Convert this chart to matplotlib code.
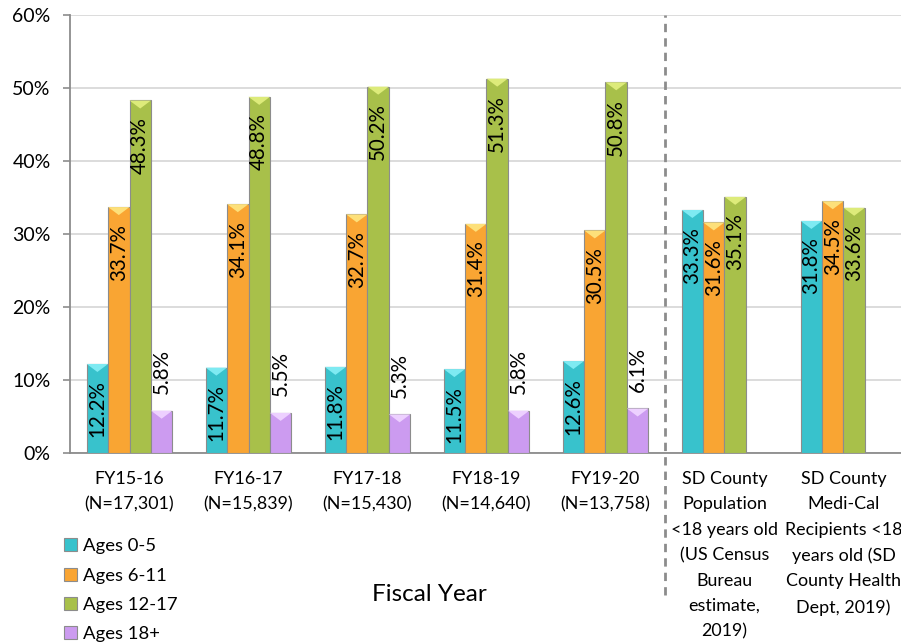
import matplotlib.pyplot as plt
import numpy as np
from matplotlib.patches import Polygon
from matplotlib.ticker import PercentFormatter

plt.rcParams["font.family"] = ["Lato", "DejaVu Sans"]

# Values (percent).
categories = [
    "FY15-16\n(N=17,301)",
    "FY16-17\n(N=15,839)",
    "FY17-18\n(N=15,430)",
    "FY18-19\n(N=14,640)",
    "FY19-20\n(N=13,758)",
    "SD County\nPopulation\n<18 years old\n(US Census\nBureau\nestimate,\n2019)",
    "SD County\nMedi-Cal\nRecipients <18\nyears old (SD\nCounty Health\nDept, 2019)",
]
series_names = ["Ages 0-5", "Ages 6-11", "Ages 12-17", "Ages 18+"]
ages_0_5 = [12.2, 11.7, 11.8, 11.5, 12.6, 33.3, 31.8]
ages_6_11 = [33.7, 34.1, 32.7, 31.4, 30.5, 31.6, 34.5]
ages_12_17 = [48.3, 48.8, 50.2, 51.3, 50.8, 35.1, 33.6]
ages_18_plus = [5.8, 5.5, 5.3, 5.8, 6.1, np.nan, np.nan]

colors = ["#38C2CC", "#F9A533", "#A8C04A", "#CC9BF0"]
highlights = ["#7EEAF2", "#FDE07A", "#DDEB7A", "#EDD0FF"]

if __name__ == "__main__":
    fig = plt.figure(figsize=(9.01, 6.43), dpi=100)
    ax = fig.add_axes([0.0777, 0.2955, 0.9245, 0.681])

    x = np.arange(len(categories))
    width = 0.18
    all_series = [ages_0_5, ages_6_11, ages_12_17, ages_18_plus]
    handles = []
    for i, values in enumerate(all_series):
        offset = (i - 1.5) * width
        bars = ax.bar(x + offset, values, width, color=colors[i],
                      edgecolor="#8C8C8C", linewidth=0.8, zorder=3,
                      label=series_names[i])
        handles.append(bars)
        for rect, v in zip(bars, values):
            if np.isnan(v):
                continue
            bx, bw, bh = rect.get_x(), rect.get_width(), rect.get_height()
            # bevel highlight at the top of each bar
            tri = Polygon([(bx, bh), (bx + bw, bh), (bx + bw / 2, bh - 1.1)],
                          closed=True, facecolor=highlights[i],
                          edgecolor="none", zorder=4)
            ax.add_patch(tri)
            label = f"{v:.1f}%"
            if i == 3:
                ax.annotate(label, (bx + bw / 2, bh), xytext=(0, 12),
                            textcoords="offset points", rotation=90,
                            ha="center", va="bottom", fontsize=14.8, zorder=5)
            else:
                ax.annotate(label, (bx + bw / 2, bh), xytext=(0, -12),
                            textcoords="offset points", rotation=90,
                            ha="center", va="top", fontsize=14.8, zorder=5)

    ax.set_xlim(-0.5, len(categories) - 0.5)
    ax.set_ylim(0, 60)
    ax.set_yticks(np.arange(0, 61, 10))
    ax.yaxis.set_major_formatter(PercentFormatter(decimals=0))
    ax.set_xticks(x)
    ax.set_xticklabels(categories, fontsize=12.9, linespacing=1.72, va="top")
    ax.tick_params(axis="x", length=0, pad=13)
    ax.tick_params(axis="y", labelsize=14, length=5, width=1.2,
                   color="#8C8C8C", pad=9)
    ax.grid(axis="y", color="#D9D9D9", linewidth=1.3, zorder=0)
    ax.set_axisbelow(True)
    for side in ["top", "right"]:
        ax.spines[side].set_visible(False)
    for side in ["left", "bottom"]:
        ax.spines[side].set_color("#8C8C8C")
        ax.spines[side].set_linewidth(1.3)

    # Separator between fiscal years and county comparisons
    ax.axvline(4.5, ymin=-0.325, ymax=1.0, color="#8C8C8C", linestyle=(0, (3, 2.2)),
               linewidth=2, clip_on=False, zorder=2)

    fig.text(0.477, 0.075, "Fiscal Year", fontsize=17.5, ha="center", va="center")

    leg = ax.legend(handles=handles, loc="upper left",
                    bbox_to_anchor=(0.068 - 0.0777 / 0.9245, -0.178),
                    frameon=False, fontsize=13.3, handlelength=0.7,
                    handleheight=0.7, handletextpad=0.35, labelspacing=0.72,
                    borderaxespad=0)

    fig.savefig("out.png", dpi=100)
